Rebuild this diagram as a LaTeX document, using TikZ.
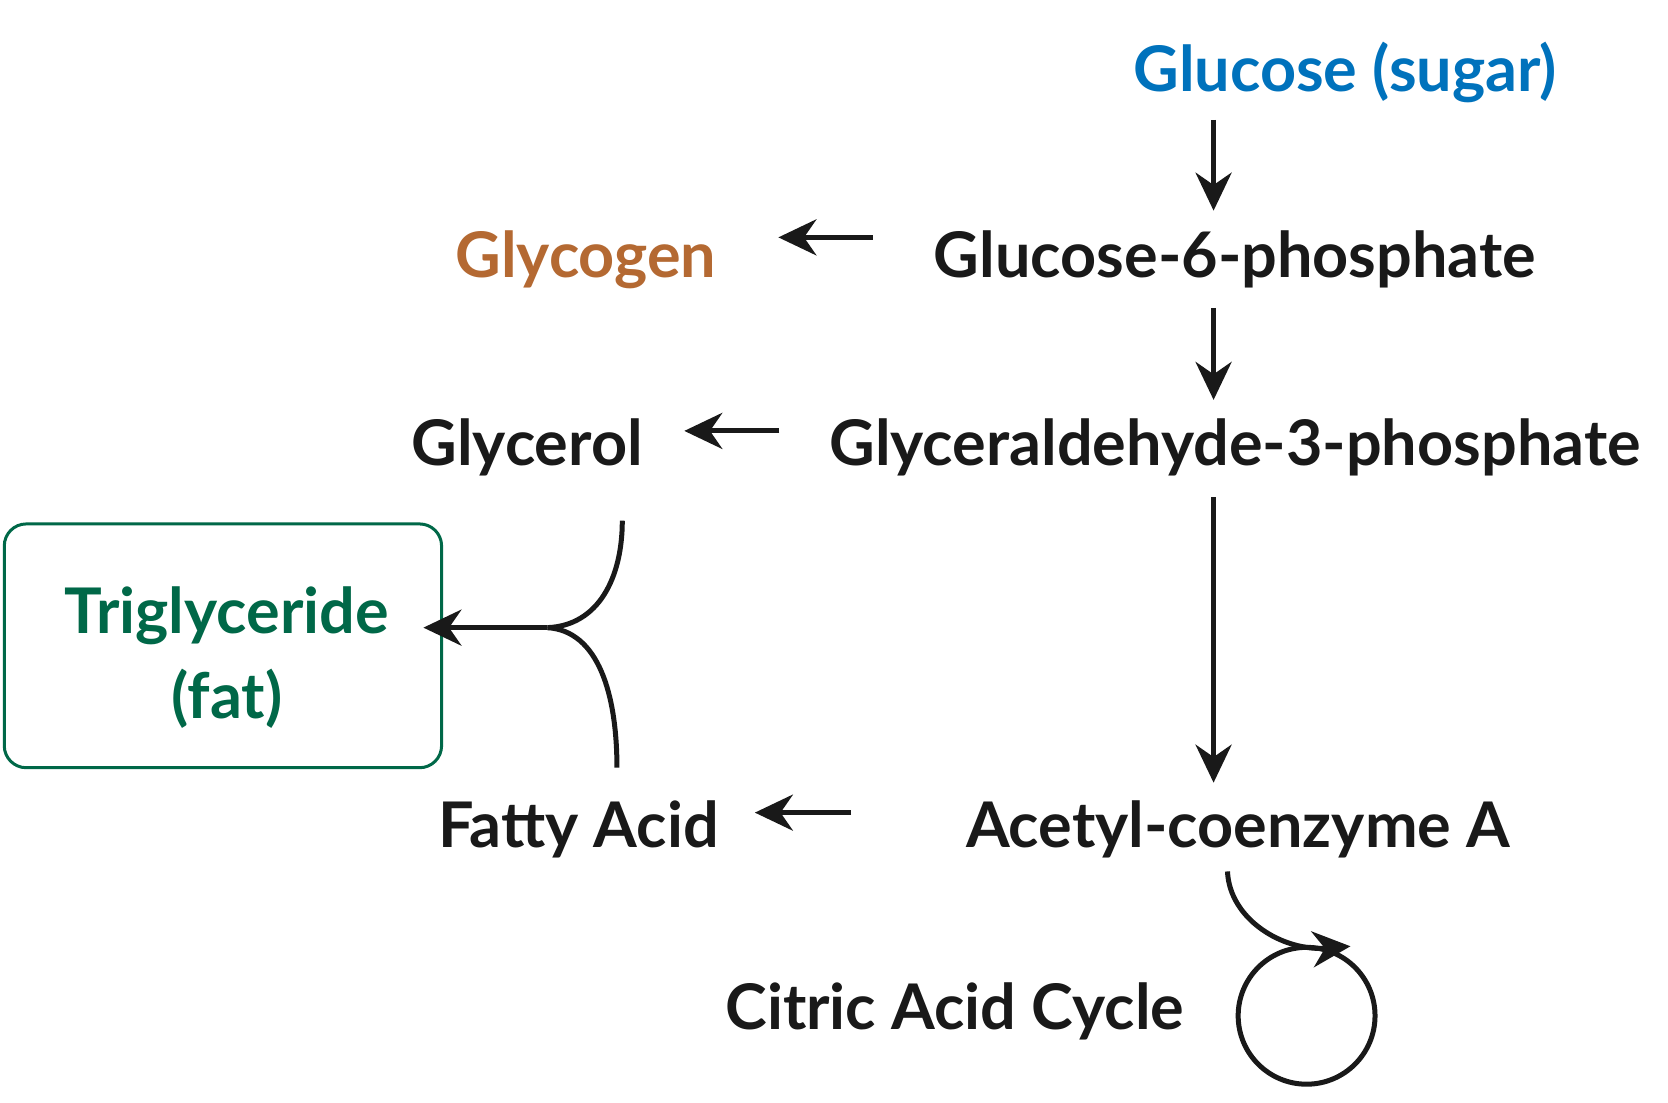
\documentclass[tikz,border=0pt]{standalone}
\usepackage{fontspec}
\setmainfont{Lato}
\usetikzlibrary{arrows.meta}
\definecolor{gblue}{RGB}{0,114,188}
\definecolor{gbrown}{RGB}{180,105,50}
\definecolor{ggreen}{RGB}{0,104,72}
\begin{document}
\begin{tikzpicture}[x=1.07pt,y=-1.07pt,
  lbl/.style={font=\fontsize{63}{69}\selectfont\bfseries, text=black!90, inner sep=0pt},
  arr/.style={line width=5pt, -{Stealth[length=38pt,width=36pt]}, black!90}]
\useasboundingbox (0,0) rectangle (1560,1031);
\fill[white] (0,0) rectangle (1560,1031);
\node[lbl,text=gblue] (glc) at (1258,68) {Glucose (sugar)};
\node[lbl] (g6p) at (1155,243) {Glucose-6-phosphate};
\node[lbl,text=gbrown] (gly) at (548,243) {Glycogen};
\node[lbl] (g3p) at (1155,418) {Glyceraldehyde-3-phosphate};
\node[lbl] (glr) at (493,418) {Glycerol};
\node[lbl] (aca) at (1158,776) {Acetyl-coenzyme A};
\node[lbl] (fa) at (541,776) {Fatty Acid};
\node[lbl] (cac) at (893,946) {Citric Acid Cycle};
\node[draw=ggreen, line width=3pt, rounded corners=22pt, minimum width=409*1.07pt, minimum height=228*1.07pt] (box) at (208.5,604) {};
\node[lbl,text=ggreen, align=center, font=\fontsize{63}{86}\selectfont\bfseries] (tg) at (212,615) {Triglyceride\\(fat)};
\coordinate (a1s) at (1135,112); \coordinate (a1e) at (1135,197);
\coordinate (a2s) at (1135,288); \coordinate (a2e) at (1135,374);
\coordinate (a3s) at (1135,465); \coordinate (a3e) at (1135,732);
\coordinate (h1s) at (816,222); \coordinate (h1e) at (728,222);
\coordinate (h2s) at (729,403); \coordinate (h2e) at (640,403);
\coordinate (h3s) at (796,760); \coordinate (h3e) at (706,760);
\coordinate (t1) at (582,487); \coordinate (t2) at (577,718);
\coordinate (tj) at (512,587); \coordinate (tt) at (396,587);
\coordinate (cs) at (1148,815); \coordinate (ce) at (1263,885);
\coordinate (cc) at (1222,950);
\draw[arr] (a1s) -- (a1e);
\draw[arr] (a2s) -- (a2e);
\draw[arr] (a3s) -- (a3e);
\draw[arr] (h1s) -- (h1e);
\draw[arr] (h2s) -- (h2e);
\draw[arr] (h3s) -- (h3e);
\draw[line width=5pt, black!90] (t1) .. controls (582,540) and (560,585) .. (tj);
\draw[line width=5pt, black!90] (t2) .. controls (577,650) and (560,590) .. (tj);
\draw[arr] (tj) -- (tt);
\draw[line width=5pt, black!90] (cc) circle[radius=64];
\draw[arr] (cs) .. controls (1150,860) and (1200,890) .. (ce);
\end{tikzpicture}
\end{document}
